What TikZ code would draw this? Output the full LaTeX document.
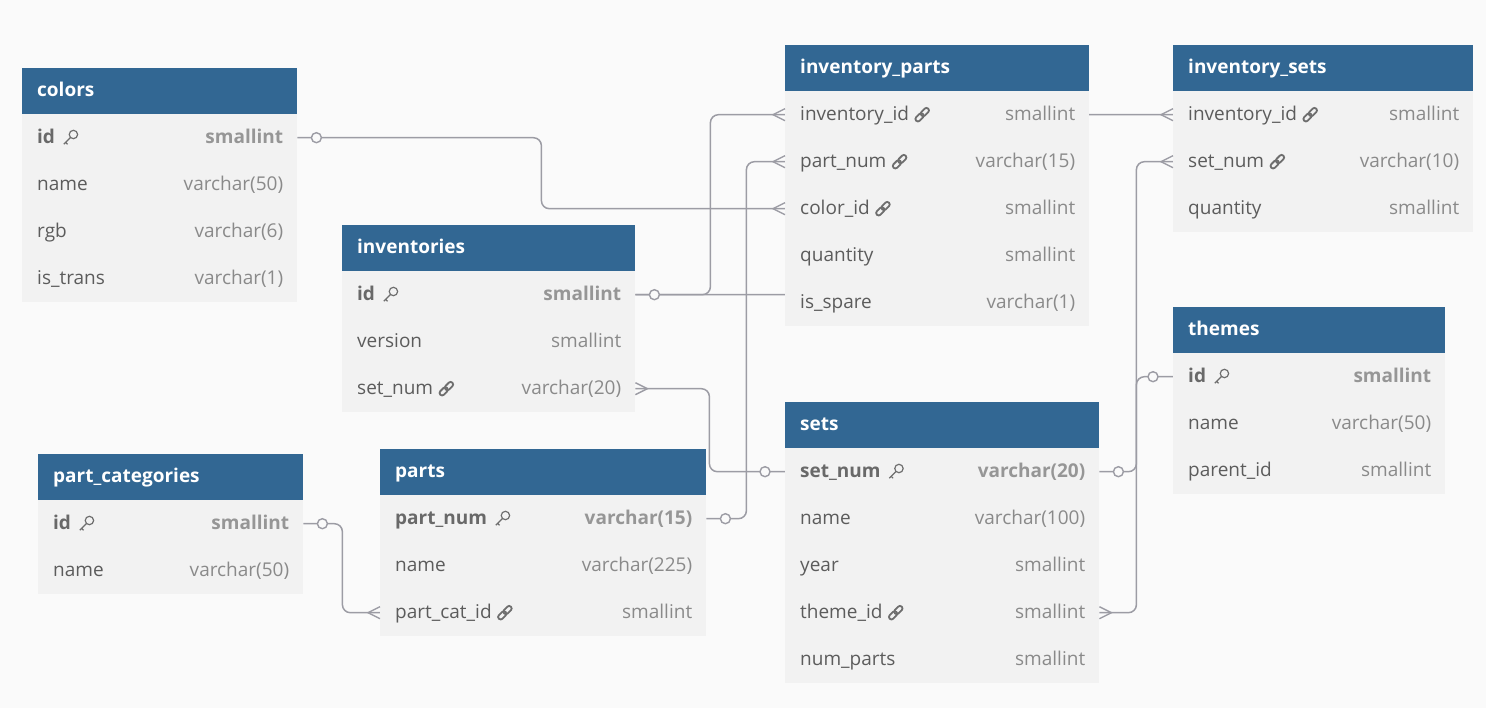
\documentclass[tikz,border=0pt]{standalone}
\usepackage{fontspec}
\setmainfont{Open Sans}
\usetikzlibrary{calc}
\definecolor{headblue}{RGB}{50,103,147}
\definecolor{rowgray}{RGB}{242,242,242}
\definecolor{pagegray}{RGB}{250,250,250}
\definecolor{namegray}{RGB}{92,92,92}
\definecolor{typegray}{RGB}{138,138,138}
\definecolor{pkname}{RGB}{105,105,105}
\definecolor{pktype}{RGB}{150,150,150}
\definecolor{relgray}{RGB}{156,156,164}
\definecolor{icongray}{RGB}{110,110,110}
\newcommand*{\headh}{46}
\newcommand*{\rowh }{47}
\newcommand*{\fieldfont}{\fontsize{19}{23}\selectfont}
\pgfdeclarelayer{back}
\pgfsetlayers{back,main}
\tikzset{
	head/.style={
		rectangle, anchor=north west, fill=headblue,
		minimum width=#1, minimum height=\headh, inner sep=0pt,
		},
	title/.style={
		anchor=west, inner sep=0pt, text=white,
		text height=14, text depth=3, font=\fieldfont\bfseries,
		},
	row/.style={
		rectangle, anchor=north west, fill=rowgray,
		minimum width=#1, minimum height=\rowh, inner sep=0pt,
		},
	fname/.style={
		anchor=west, inner sep=0pt, text=namegray,
		text height=14, text depth=3, font=\fieldfont,
		},
	ftype/.style={
		anchor=east, inner sep=0pt, text=typegray,
		text height=14, text depth=3, font=\fieldfont,
		},
	rel/.style={draw=relgray, line width=1.5, rounded corners=8},
	one/.style={
		circle, draw=relgray, fill=pagegray, line width=1.4,
		minimum size=10, inner sep=0pt,
		},
	manyw/.pic={\draw[relgray, line width=1.4] (0,-6) -- (-12,0) -- (0,6);},
	manye/.pic={\draw[relgray, line width=1.4] (0,-6) -- (12,0) -- (0,6);},
	keyicon/.pic={
		\draw[icongray, line width=1.2] (3.2,-3.2) circle (4.2);
		\draw[icongray, line width=1.2] (0.2,-0.2) -- (-6.5,6.5) (-4.6,4.6) -- (-2.6,6.6);
		},
	linkicon/.pic={
		\begin{scope}[rotate=45, icongray, line width=1.8, rounded corners=2.4]
			\draw (-8.5,-2.5) rectangle (1,2.5);
			\draw (-1,-2.5) rectangle (8.5,2.5);
		\end{scope}
		}
	}
\newcommand*{\dbtable}[6]{%
	\node (#1) [head=#5] at (#3,#4) {};
	\node [title] at ([xshift=15]#1.west) {#2};
	\foreach \fld/\typ/\kind [count=\i] in {#6} {
		\node (#1-\i) [row=#5] at (#3,#4+\headh+\rowh*\i-\rowh) {};
		\node (#1-\i-f) [fname] at ([xshift=15]#1-\i.west) {\if p\kind\bfseries\color{pkname}\fi\fld};
		\node [ftype] at ([xshift=-14]#1-\i.east) {\if p\kind\bfseries\color{pktype}\fi\typ};
		\if p\kind\pic at ([xshift=15]#1-\i-f.east) {keyicon};\fi
		\if f\kind\pic at ([xshift=13]#1-\i-f.east) {linkicon};\fi
	}
}

\begin{document}
\begin{tikzpicture}[x=1pt, y=-1pt]
	\useasboundingbox (0,0) rectangle (1486,708);
	\dbtable{colors}{colors}{22}{68}{275}{%
		id/smallint/p, name/varchar(50)/n, rgb/varchar(6)/n, is\_trans/varchar(1)/n}
	\dbtable{invent}{inventories}{342}{225}{293}{%
		id/smallint/p, version/smallint/n, set\_num/varchar(20)/f}
	\dbtable{partcat}{part\_categories}{38}{454}{265}{%
		id/smallint/p, name/varchar(50)/n}
	\dbtable{parts}{parts}{380}{449}{326}{%
		part\_num/varchar(15)/p, name/varchar(225)/n, part\_cat\_id/smallint/f}
	\dbtable{invparts}{inventory\_parts}{785}{45}{304}{%
		inventory\_id/smallint/f, part\_num/varchar(15)/f, color\_id/smallint/f,
		quantity/smallint/n, is\_spare/varchar(1)/n}
	\dbtable{invsets}{inventory\_sets}{1173}{45}{300}{%
		inventory\_id/smallint/f, set\_num/varchar(10)/f, quantity/smallint/n}
	\dbtable{themes}{themes}{1173}{307}{272}{%
		id/smallint/p, name/varchar(50)/n, parent\_id/smallint/n}
	\dbtable{sets}{sets}{785}{402}{314}{%
		set\_num/varchar(20)/p, name/varchar(100)/n, year/smallint/n,
		theme\_id/smallint/f, num\_parts/smallint/n}
	\begin{pgfonlayer}{back}
		\fill[pagegray] (0,0) rectangle (1486,708);
		\draw[rel] (colors-1.east)  -- ([xshift=244]colors-1.east)  |- (invparts-3.west);
		\draw[rel] (invent-1.east)  -- ([xshift=75]invent-1.east)   |- (invparts-1.west);
		\draw[rel] (invent-1.east)  -- ([xshift=300]invent-1.east)  |- (invsets-1.west);
		\draw[rel] (invent-3.east)  -- ([xshift=74]invent-3.east)   |- (sets-1.west);
		\draw[rel] (parts-1.east)   -- ([xshift=40]parts-1.east)    |- (invparts-2.west);
		\draw[rel] (partcat-1.east) -- ([xshift=39]partcat-1.east)  |- (parts-3.west);
		\draw[rel] (sets-1.east)    -- ([xshift=37]sets-1.east)     |- (invsets-2.west);
		\draw[rel] (sets-4.east)    -- ([xshift=37]sets-4.east)     |- (themes-1.west);
	\end{pgfonlayer}
	\foreach \n in {colors-1,invent-1,parts-1,partcat-1,sets-1}
		\node [one] at ([xshift=19]\n.east) {};
	\foreach \n in {sets-1,themes-1}
		\node [one] at ([xshift=-20]\n.west) {};
	\foreach \n in {invparts-1,invparts-2,invparts-3,invsets-1,invsets-2,parts-3}
		\pic at (\n.west) {manyw};
	\foreach \n in {invent-3,sets-4}
		\pic at (\n.east) {manye};
\end{tikzpicture}
\end{document}
